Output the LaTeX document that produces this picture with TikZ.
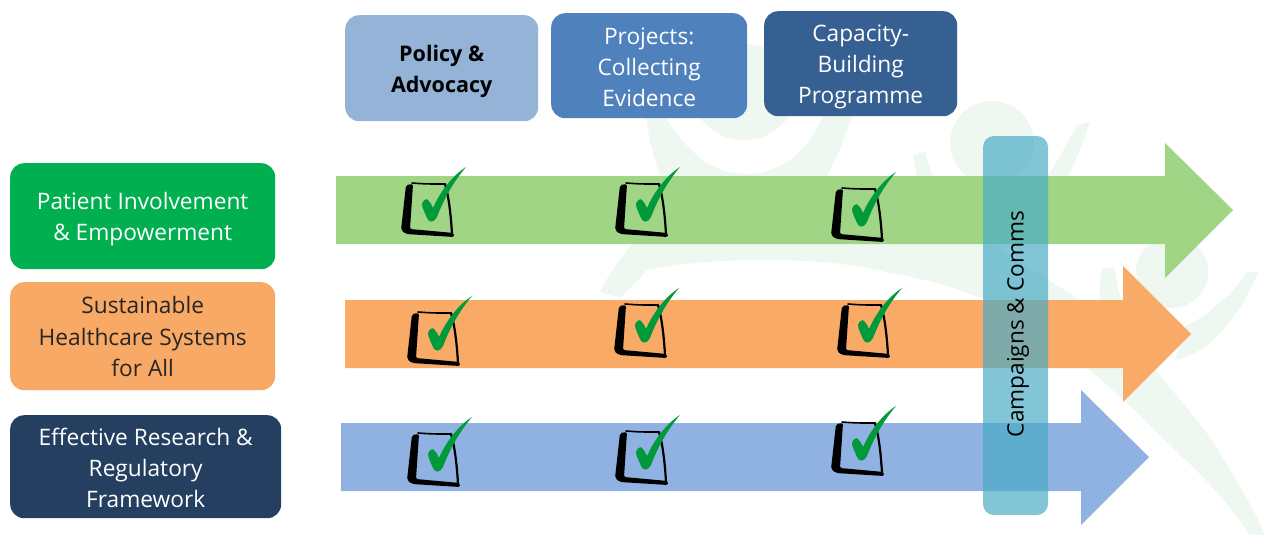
\documentclass[tikz,border=0pt]{standalone}
\usepackage{fontspec}
\setmainfont{Open Sans}
\newcommand{\firstline}[1]{\rule{0pt}{#1pt}}
\begin{document}
\begin{tikzpicture}[x=1pt,y=-1pt,
  box/.style={rounded corners=14pt,inner sep=0pt,align=center,anchor=north west,font=\fontsize{22.7}{31.3}\selectfont,text=white},
  wmshape/.style={fill=wm,draw=none},
  bigarrow/.style={draw=none},
  tickbox/.pic={
    \draw[black,line width=1.6pt,line cap=round] (-54,16) .. controls (-40,17) .. (-21,17);
    \draw[black,line width=2.2pt,line cap=round] (-21,17) .. controls (-17,30) and (-15,50) .. (-14,67);
    \fill[black,rounded corners=2pt] (-60,18) -- (-53,17) -- (-56,62) -- (-12,66) -- (-12,70) -- (-60,67) -- (-65,63) -- cycle;
    \fill[tickgreen] (0,0) .. controls (-13,15) and (-23,34) .. (-29,50) .. controls (-32,56) and (-37,56) .. (-39,51)
      .. controls (-41,46) and (-44,41) .. (-44,37) .. controls (-43,33) and (-39,31) .. (-38,33) .. controls (-36,35) and (-34,38) .. (-33,41)
      .. controls (-26,25) and (-14,9) .. (0,0) -- cycle;
  }]
\definecolor{wm}{HTML}{EEF8F1}
\definecolor{tickgreen}{HTML}{009A3A}
\definecolor{greenbox}{HTML}{00B050}
\definecolor{orangebox}{HTML}{F8A965}
\definecolor{navybox}{HTML}{243F60}
\definecolor{policy}{HTML}{95B3D7}
\definecolor{projects}{HTML}{4F81BD}
\definecolor{capacity}{HTML}{376092}
\definecolor{arrowgreen}{HTML}{A0D585}
\definecolor{arroworange}{HTML}{F9AA66}
\definecolor{arrowblue}{HTML}{8FB2E2}
\definecolor{camp}{HTML}{4BACC6}
\useasboundingbox (0,0) rectangle (1271,535);
% watermark
\fill[wmshape] (645,110) .. controls (648,135) and (653,155) .. (660,176) .. controls (680,225) and (780,225) .. (827,176)
  .. controls (838,155) and (846,135) .. (854,110) -- (826,110) .. controls (815,135) and (803,150) .. (790,160)
  .. controls (760,180) and (725,178) .. (700,158) .. controls (685,145) and (672,130) .. (661,110) -- cycle;
\fill[wmshape] (744,92) ellipse [x radius=52, y radius=48];
\fill[wmshape] (992,143) circle [radius=42];
\fill[wmshape] (913,155) -- (925,152) -- (933,178) -- (917,178) -- cycle;
\fill[wmshape] (1090,122) -- (1077,125) .. controls (1068,142) and (1058,160) .. (1048,176) -- (1067,178) .. controls (1076,160) and (1084,142) .. (1090,122) -- cycle;
\fill[wmshape] (600,292) .. controls (608,275) and (620,258) .. (636,240) -- (990,240)
  .. controls (1030,270) and (1050,280) .. (1077,298) .. controls (1105,320) and (1135,345) .. (1157,372)
  .. controls (1180,400) and (1198,420) .. (1213,442) .. controls (1235,478) and (1252,505) .. (1265,535) -- (1250,535)
  .. controls (1230,505) and (1207,480) .. (1180,455) .. controls (1150,425) and (1120,395) .. (1087,368)
  .. controls (1055,345) and (1020,320) .. (985,300) .. controls (950,285) and (920,278) .. (890,273)
  .. controls (850,263) and (810,260) .. (767,260) .. controls (720,260) and (680,263) .. (647,270)
  .. controls (638,280) and (628,290) .. (620,298) -- cycle;
\fill[wmshape] (1172,272) circle [radius=36];
\fill[wmshape] (1102,268) -- (1115,268) .. controls (1116,280) and (1118,290) .. (1122,302) -- (1100,302) .. controls (1099,290) and (1100,280) .. (1102,268) -- cycle;
\fill[wmshape] (1258,272) -- (1247,272) .. controls (1235,290) and (1224,300) .. (1213,308) .. controls (1205,316) and (1196,321) .. (1185,326)
  -- (1175,360) .. controls (1195,355) and (1212,345) .. (1227,325) .. controls (1240,310) and (1250,292) .. (1258,272) -- cycle;
% arrows
\fill[arrowgreen,bigarrow] (336,176) -- (1165,176) -- (1165,143) -- (1233,210) -- (1165,278) -- (1165,244) -- (336,244) -- cycle;
\fill[arroworange,bigarrow] (345,300) -- (1123,300) -- (1123,266) -- (1191,334) -- (1123,402) -- (1123,368) -- (345,368) -- cycle;
\fill[arrowblue,bigarrow] (341,423) -- (1081,423) -- (1081,390) -- (1149,457) -- (1081,525) -- (1081,491) -- (341,491) -- cycle;
% campaigns box
\node[fill=camp,fill opacity=0.7,text opacity=1,rounded corners=11pt,minimum width=65pt,minimum height=379pt,inner sep=0pt,anchor=center] (campbox) at (1015.5,325.5) {};
\node[rotate=90,text=black,font=\fontsize{22.6}{25}\selectfont,inner sep=0pt] (camptext) at (1018,324) {Campaigns \& Comms};
% headers
\node[box,fill=policy,minimum width=193pt,minimum height=106pt,text=black,font=\fontsize{21.5}{31}\selectfont\bfseries] (h1) at (345,15) {\firstline{23}Policy \&\\Advocacy};
\node[box,fill=projects,minimum width=196pt,minimum height=105pt] (h2) at (551,13) {\firstline{20}Projects:\\Collecting\\Evidence};
\node[box,fill=capacity,minimum width=193pt,minimum height=105pt] (h3) at (764,11) {\firstline{23}Capacity-\\Building\\Programme};
% rows
\node[box,fill=greenbox,minimum width=265pt,minimum height=106pt] (r1) at (10,163) {\firstline{23}Patient Involvement\\\&  Empowerment};
\node[box,fill=orangebox,minimum width=265pt,minimum height=108pt,text=black!85] (r2) at (10,282) {\firstline{18}Sustainable\\Healthcare Systems\\for All};
\node[box,fill=navybox,minimum width=271pt,minimum height=103pt] (r3) at (10,415) {\firstline{20}Effective Research \&\\Regulatory\\Framework};
% checks
\path (466,167) pic {tickbox} (680,167) pic {tickbox} (896,172) pic {tickbox}
      (472,296) pic {tickbox} (679,288) pic {tickbox} (902,288) pic {tickbox}
      (472,417) pic {tickbox} (680,415) pic {tickbox} (896,406) pic {tickbox};
\end{tikzpicture}
\end{document}
